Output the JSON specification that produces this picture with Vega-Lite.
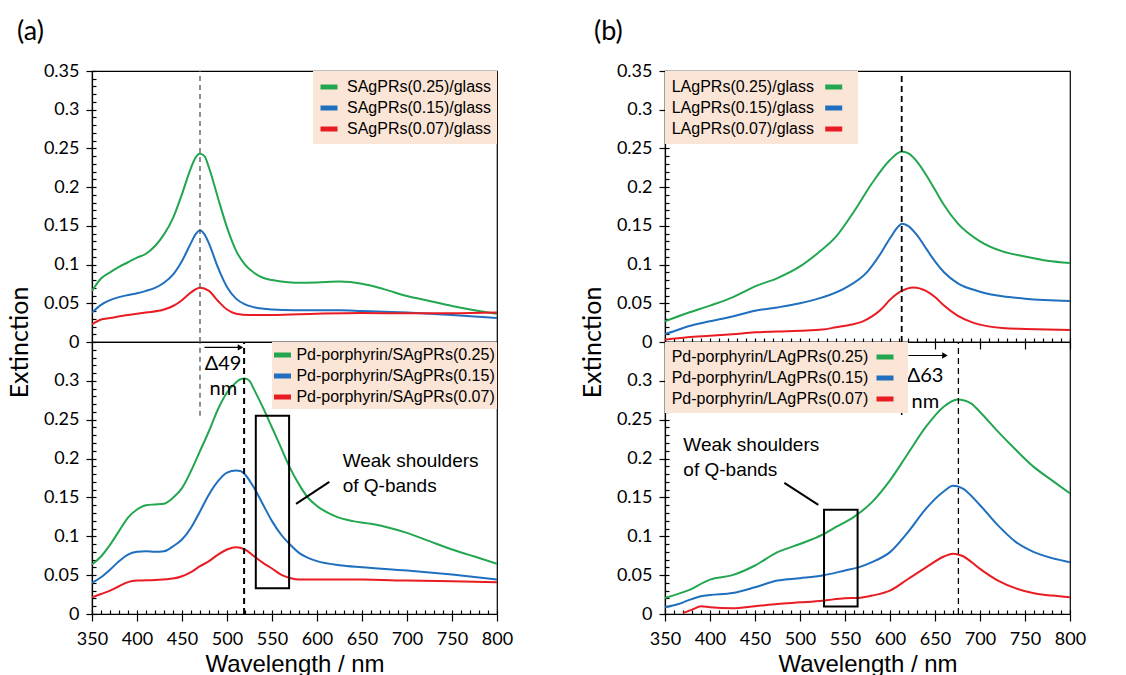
{
  "$schema": "https://vega.github.io/schema/vega-lite/v6.json",
  "background": "white",
  "padding": {"left": 6, "top": 18, "right": 5, "bottom": 0},
  "datasets": {
    "a_glass": [
      {"c":"0.25","wl":350,"e":0.066},{"c":"0.25","wl":360,"e":0.082},{"c":"0.25","wl":370,"e":0.090},{"c":"0.25","wl":380,"e":0.097},{"c":"0.25","wl":390,"e":0.103},{"c":"0.25","wl":400,"e":0.109},{"c":"0.25","wl":410,"e":0.114},{"c":"0.25","wl":420,"e":0.124},{"c":"0.25","wl":430,"e":0.139},{"c":"0.25","wl":440,"e":0.160},{"c":"0.25","wl":450,"e":0.191},{"c":"0.25","wl":460,"e":0.225},{"c":"0.25","wl":465,"e":0.238},{"c":"0.25","wl":470,"e":0.243},{"c":"0.25","wl":475,"e":0.240},{"c":"0.25","wl":480,"e":0.225},{"c":"0.25","wl":490,"e":0.186},{"c":"0.25","wl":500,"e":0.148},{"c":"0.25","wl":510,"e":0.118},{"c":"0.25","wl":520,"e":0.100},{"c":"0.25","wl":530,"e":0.0895},{"c":"0.25","wl":540,"e":0.083},{"c":"0.25","wl":550,"e":0.080},{"c":"0.25","wl":560,"e":0.078},{"c":"0.25","wl":575,"e":0.0766},{"c":"0.25","wl":600,"e":0.077},{"c":"0.25","wl":625,"e":0.078},{"c":"0.25","wl":650,"e":0.0753},{"c":"0.25","wl":675,"e":0.068},{"c":"0.25","wl":700,"e":0.0594},{"c":"0.25","wl":725,"e":0.053},{"c":"0.25","wl":750,"e":0.0465},{"c":"0.25","wl":775,"e":0.041},{"c":"0.25","wl":800,"e":0.0366},
      {"c":"0.15","wl":350,"e":0.038},{"c":"0.15","wl":360,"e":0.048},{"c":"0.15","wl":370,"e":0.054},{"c":"0.15","wl":380,"e":0.058},{"c":"0.15","wl":390,"e":0.0607},{"c":"0.15","wl":400,"e":0.063},{"c":"0.15","wl":410,"e":0.066},{"c":"0.15","wl":420,"e":0.070},{"c":"0.15","wl":430,"e":0.0766},{"c":"0.15","wl":440,"e":0.087},{"c":"0.15","wl":450,"e":0.1046},{"c":"0.15","wl":460,"e":0.128},{"c":"0.15","wl":465,"e":0.139},{"c":"0.15","wl":470,"e":0.144},{"c":"0.15","wl":475,"e":0.139},{"c":"0.15","wl":480,"e":0.127},{"c":"0.15","wl":490,"e":0.096},{"c":"0.15","wl":500,"e":0.071},{"c":"0.15","wl":510,"e":0.056},{"c":"0.15","wl":520,"e":0.0486},{"c":"0.15","wl":530,"e":0.045},{"c":"0.15","wl":550,"e":0.042},{"c":"0.15","wl":575,"e":0.041},{"c":"0.15","wl":600,"e":0.041},{"c":"0.15","wl":625,"e":0.041},{"c":"0.15","wl":650,"e":0.040},{"c":"0.15","wl":700,"e":0.038},{"c":"0.15","wl":750,"e":0.035},{"c":"0.15","wl":800,"e":0.031},
      {"c":"0.07","wl":350,"e":0.0228},{"c":"0.07","wl":360,"e":0.029},{"c":"0.07","wl":370,"e":0.031},{"c":"0.07","wl":390,"e":0.035},{"c":"0.07","wl":410,"e":0.038},{"c":"0.07","wl":430,"e":0.042},{"c":"0.07","wl":440,"e":0.0465},{"c":"0.07","wl":450,"e":0.054},{"c":"0.07","wl":460,"e":0.064},{"c":"0.07","wl":470,"e":0.070},{"c":"0.07","wl":480,"e":0.066},{"c":"0.07","wl":490,"e":0.053},{"c":"0.07","wl":500,"e":0.042},{"c":"0.07","wl":510,"e":0.0366},{"c":"0.07","wl":525,"e":0.035},{"c":"0.07","wl":550,"e":0.035},{"c":"0.07","wl":600,"e":0.0366},{"c":"0.07","wl":650,"e":0.0375},{"c":"0.07","wl":700,"e":0.037},{"c":"0.07","wl":750,"e":0.037},{"c":"0.07","wl":800,"e":0.038}
    ],
    "a_pd": [
      {"c":"0.25","wl":350,"e":0.0636},{"c":"0.25","wl":360,"e":0.074},{"c":"0.25","wl":370,"e":0.089},{"c":"0.25","wl":380,"e":0.1066},{"c":"0.25","wl":390,"e":0.124},{"c":"0.25","wl":400,"e":0.1345},{"c":"0.25","wl":410,"e":0.140},{"c":"0.25","wl":420,"e":0.141},{"c":"0.25","wl":430,"e":0.142},{"c":"0.25","wl":440,"e":0.1496},{"c":"0.25","wl":450,"e":0.162},{"c":"0.25","wl":460,"e":0.184},{"c":"0.25","wl":470,"e":0.2097},{"c":"0.25","wl":480,"e":0.2355},{"c":"0.25","wl":490,"e":0.2635},{"c":"0.25","wl":500,"e":0.285},{"c":"0.25","wl":510,"e":0.298},{"c":"0.25","wl":515,"e":0.302},{"c":"0.25","wl":520,"e":0.303},{"c":"0.25","wl":525,"e":0.300},{"c":"0.25","wl":530,"e":0.289},{"c":"0.25","wl":540,"e":0.2656},{"c":"0.25","wl":550,"e":0.240},{"c":"0.25","wl":560,"e":0.214},{"c":"0.25","wl":570,"e":0.188},{"c":"0.25","wl":580,"e":0.1668},{"c":"0.25","wl":590,"e":0.1496},{"c":"0.25","wl":600,"e":0.139},{"c":"0.25","wl":620,"e":0.126},{"c":"0.25","wl":640,"e":0.1195},{"c":"0.25","wl":660,"e":0.116},{"c":"0.25","wl":680,"e":0.111},{"c":"0.25","wl":700,"e":0.1044},{"c":"0.25","wl":725,"e":0.0937},{"c":"0.25","wl":750,"e":0.083},{"c":"0.25","wl":775,"e":0.074},{"c":"0.25","wl":800,"e":0.0645},
      {"c":"0.15","wl":350,"e":0.040},{"c":"0.15","wl":360,"e":0.0473},{"c":"0.15","wl":370,"e":0.057},{"c":"0.15","wl":380,"e":0.068},{"c":"0.15","wl":390,"e":0.0765},{"c":"0.15","wl":400,"e":0.080},{"c":"0.15","wl":410,"e":0.0808},{"c":"0.15","wl":420,"e":0.080},{"c":"0.15","wl":430,"e":0.0808},{"c":"0.15","wl":440,"e":0.087},{"c":"0.15","wl":450,"e":0.0958},{"c":"0.15","wl":460,"e":0.111},{"c":"0.15","wl":470,"e":0.132},{"c":"0.15","wl":480,"e":0.1539},{"c":"0.15","wl":490,"e":0.171},{"c":"0.15","wl":500,"e":0.182},{"c":"0.15","wl":510,"e":0.1848},{"c":"0.15","wl":515,"e":0.184},{"c":"0.15","wl":520,"e":0.1796},{"c":"0.15","wl":530,"e":0.1625},{"c":"0.15","wl":540,"e":0.141},{"c":"0.15","wl":550,"e":0.1195},{"c":"0.15","wl":560,"e":0.1023},{"c":"0.15","wl":570,"e":0.0894},{"c":"0.15","wl":580,"e":0.0787},{"c":"0.15","wl":590,"e":0.0722},{"c":"0.15","wl":600,"e":0.068},{"c":"0.15","wl":625,"e":0.0628},{"c":"0.15","wl":650,"e":0.0602},{"c":"0.15","wl":700,"e":0.056},{"c":"0.15","wl":750,"e":0.0507},{"c":"0.15","wl":800,"e":0.0443},
      {"c":"0.07","wl":350,"e":0.0215},{"c":"0.07","wl":360,"e":0.0258},{"c":"0.07","wl":370,"e":0.030},{"c":"0.07","wl":380,"e":0.0357},{"c":"0.07","wl":390,"e":0.041},{"c":"0.07","wl":400,"e":0.043},{"c":"0.07","wl":420,"e":0.0438},{"c":"0.07","wl":440,"e":0.0456},{"c":"0.07","wl":450,"e":0.0486},{"c":"0.07","wl":460,"e":0.054},{"c":"0.07","wl":470,"e":0.0615},{"c":"0.07","wl":480,"e":0.068},{"c":"0.07","wl":490,"e":0.0765},{"c":"0.07","wl":500,"e":0.083},{"c":"0.07","wl":510,"e":0.086},{"c":"0.07","wl":520,"e":0.083},{"c":"0.07","wl":530,"e":0.0744},{"c":"0.07","wl":540,"e":0.0658},{"c":"0.07","wl":550,"e":0.0585},{"c":"0.07","wl":560,"e":0.0507},{"c":"0.07","wl":570,"e":0.0464},{"c":"0.07","wl":580,"e":0.0443},{"c":"0.07","wl":600,"e":0.0443},{"c":"0.07","wl":650,"e":0.0443},{"c":"0.07","wl":700,"e":0.043},{"c":"0.07","wl":750,"e":0.042},{"c":"0.07","wl":800,"e":0.041}
    ],
    "b_glass": [
      {"c":"0.25","wl":350,"e":0.0267},{"c":"0.25","wl":375,"e":0.0374},{"c":"0.25","wl":400,"e":0.047},{"c":"0.25","wl":425,"e":0.0576},{"c":"0.25","wl":450,"e":0.0718},{"c":"0.25","wl":475,"e":0.0826},{"c":"0.25","wl":500,"e":0.0976},{"c":"0.25","wl":520,"e":0.115},{"c":"0.25","wl":540,"e":0.136},{"c":"0.25","wl":560,"e":0.1686},{"c":"0.25","wl":580,"e":0.205},{"c":"0.25","wl":600,"e":0.235},{"c":"0.25","wl":613,"e":0.246},{"c":"0.25","wl":620,"e":0.2438},{"c":"0.25","wl":630,"e":0.233},{"c":"0.25","wl":640,"e":0.216},{"c":"0.25","wl":650,"e":0.1965},{"c":"0.25","wl":660,"e":0.177},{"c":"0.25","wl":675,"e":0.1535},{"c":"0.25","wl":700,"e":0.130},{"c":"0.25","wl":725,"e":0.117},{"c":"0.25","wl":750,"e":0.1105},{"c":"0.25","wl":775,"e":0.105},{"c":"0.25","wl":800,"e":0.102},
      {"c":"0.15","wl":350,"e":0.0103},{"c":"0.15","wl":360,"e":0.0138},{"c":"0.15","wl":375,"e":0.020},{"c":"0.15","wl":400,"e":0.0267},{"c":"0.15","wl":425,"e":0.033},{"c":"0.15","wl":450,"e":0.0404},{"c":"0.15","wl":475,"e":0.0447},{"c":"0.15","wl":500,"e":0.050},{"c":"0.15","wl":525,"e":0.0576},{"c":"0.15","wl":550,"e":0.0697},{"c":"0.15","wl":575,"e":0.091},{"c":"0.15","wl":590,"e":0.115},{"c":"0.15","wl":600,"e":0.134},{"c":"0.15","wl":610,"e":0.150},{"c":"0.15","wl":613,"e":0.1527},{"c":"0.15","wl":620,"e":0.150},{"c":"0.15","wl":630,"e":0.138},{"c":"0.15","wl":640,"e":0.121},{"c":"0.15","wl":650,"e":0.104},{"c":"0.15","wl":660,"e":0.090},{"c":"0.15","wl":675,"e":0.076},{"c":"0.15","wl":700,"e":0.065},{"c":"0.15","wl":725,"e":0.059},{"c":"0.15","wl":750,"e":0.056},{"c":"0.15","wl":800,"e":0.053},
      {"c":"0.07","wl":350,"e":0.003},{"c":"0.07","wl":375,"e":0.006},{"c":"0.07","wl":400,"e":0.008},{"c":"0.07","wl":425,"e":0.010},{"c":"0.07","wl":450,"e":0.0125},{"c":"0.07","wl":475,"e":0.0135},{"c":"0.07","wl":500,"e":0.0146},{"c":"0.07","wl":525,"e":0.016},{"c":"0.07","wl":540,"e":0.019},{"c":"0.07","wl":555,"e":0.022},{"c":"0.07","wl":570,"e":0.0267},{"c":"0.07","wl":580,"e":0.033},{"c":"0.07","wl":590,"e":0.042},{"c":"0.07","wl":600,"e":0.0546},{"c":"0.07","wl":613,"e":0.066},{"c":"0.07","wl":626,"e":0.0705},{"c":"0.07","wl":640,"e":0.066},{"c":"0.07","wl":650,"e":0.058},{"c":"0.07","wl":660,"e":0.047},{"c":"0.07","wl":675,"e":0.034},{"c":"0.07","wl":690,"e":0.026},{"c":"0.07","wl":700,"e":0.0224},{"c":"0.07","wl":725,"e":0.018},{"c":"0.07","wl":750,"e":0.0168},{"c":"0.07","wl":775,"e":0.016},{"c":"0.07","wl":800,"e":0.0155}
    ],
    "b_pd": [
      {"c":"0.25","wl":350,"e":0.0207},{"c":"0.25","wl":375,"e":0.030},{"c":"0.25","wl":400,"e":0.0443},{"c":"0.25","wl":425,"e":0.050},{"c":"0.25","wl":450,"e":0.0624},{"c":"0.25","wl":475,"e":0.0796},{"c":"0.25","wl":500,"e":0.090},{"c":"0.25","wl":525,"e":0.102},{"c":"0.25","wl":540,"e":0.112},{"c":"0.25","wl":560,"e":0.125},{"c":"0.25","wl":580,"e":0.144},{"c":"0.25","wl":600,"e":0.172},{"c":"0.25","wl":620,"e":0.2066},{"c":"0.25","wl":640,"e":0.241},{"c":"0.25","wl":660,"e":0.267},{"c":"0.25","wl":675,"e":0.276},{"c":"0.25","wl":690,"e":0.271},{"c":"0.25","wl":700,"e":0.260},{"c":"0.25","wl":720,"e":0.2346},{"c":"0.25","wl":740,"e":0.211},{"c":"0.25","wl":760,"e":0.189},{"c":"0.25","wl":780,"e":0.172},{"c":"0.25","wl":800,"e":0.155},
      {"c":"0.15","wl":350,"e":0.0086},{"c":"0.15","wl":365,"e":0.0129},{"c":"0.15","wl":375,"e":0.0172},{"c":"0.15","wl":390,"e":0.0228},{"c":"0.15","wl":400,"e":0.0245},{"c":"0.15","wl":425,"e":0.027},{"c":"0.15","wl":450,"e":0.0344},{"c":"0.15","wl":475,"e":0.043},{"c":"0.15","wl":500,"e":0.046},{"c":"0.15","wl":525,"e":0.0495},{"c":"0.15","wl":550,"e":0.056},{"c":"0.15","wl":565,"e":0.060},{"c":"0.15","wl":580,"e":0.0667},{"c":"0.15","wl":600,"e":0.0796},{"c":"0.15","wl":620,"e":0.1054},{"c":"0.15","wl":640,"e":0.1356},{"c":"0.15","wl":660,"e":0.158},{"c":"0.15","wl":670,"e":0.165},{"c":"0.15","wl":680,"e":0.162},{"c":"0.15","wl":700,"e":0.140},{"c":"0.15","wl":720,"e":0.114},{"c":"0.15","wl":740,"e":0.0925},{"c":"0.15","wl":760,"e":0.0796},{"c":"0.15","wl":780,"e":0.0719},{"c":"0.15","wl":800,"e":0.0667},
      {"c":"0.07","wl":370,"e":0.0013},{"c":"0.07","wl":380,"e":0.0056},{"c":"0.07","wl":390,"e":0.0099},{"c":"0.07","wl":400,"e":0.0086},{"c":"0.07","wl":425,"e":0.0073},{"c":"0.07","wl":450,"e":0.0099},{"c":"0.07","wl":475,"e":0.0129},{"c":"0.07","wl":500,"e":0.015},{"c":"0.07","wl":525,"e":0.0172},{"c":"0.07","wl":550,"e":0.0202},{"c":"0.07","wl":565,"e":0.0207},{"c":"0.07","wl":580,"e":0.0237},{"c":"0.07","wl":600,"e":0.030},{"c":"0.07","wl":620,"e":0.045},{"c":"0.07","wl":640,"e":0.060},{"c":"0.07","wl":660,"e":0.074},{"c":"0.07","wl":670,"e":0.0775},{"c":"0.07","wl":680,"e":0.075},{"c":"0.07","wl":700,"e":0.058},{"c":"0.07","wl":720,"e":0.043},{"c":"0.07","wl":740,"e":0.033},{"c":"0.07","wl":760,"e":0.0267},{"c":"0.07","wl":780,"e":0.0237},{"c":"0.07","wl":800,"e":0.0215}
    ],
    "one": [{}]
  },
  "hconcat": [
    {
      "title": {"text": "(a)", "dx": -75, "offset": 15},
      "spacing": 0,
      "bounds": "flush",
      "resolve": {"scale": {"color": "independent"}, "legend": {"color": "independent"}},
      "vconcat": [
        {
          "width": 405,
          "height": 271,
          "resolve": {"axis": {"x": "independent", "y": "independent"}},
          "layer": [
            {
              "data": {"name": "a_glass"},
              "mark": {"type": "line", "interpolate": "monotone", "strokeWidth": 2, "clip": true},
              "encoding": {
                "x": {"field": "wl", "type": "quantitative", "scale": {"domain": [350, 800], "nice": false, "zero": false},
                      "axis": {"title": null, "labels": false, "ticks": false, "orient": "bottom"}},
                "y": {"field": "e", "type": "quantitative", "scale": {"domain": [0, 0.35], "nice": false},
                      "axis": {"title": null, "orient": "left", "values": [0,0.05,0.1,0.15,0.2,0.25,0.3,0.35], "format": "~g", "tickSize": 6}},
                "color": {"field": "c", "type": "nominal",
                          "scale": {"domain": ["0.25", "0.15", "0.07"], "range": ["#22a64f", "#1f6fbe", "#e81c22"]},
                          "legend": {"title": null, "orient": "top-right", "padding": 5, "labelOffset": 7,
                                     "labelExpr": "'SAgPRs(' + datum.label + ')/glass'"}}
              }
            },
            {
              "data": {"name": "one"},
              "mark": {"type": "rule", "strokeDash": [5, 4], "color": "#555555", "strokeWidth": 1.3},
              "encoding": {
                "x": {"datum": 470, "axis": null},
                "y": {"datum": 0, "axis": {"title": null, "orient": "left", "labels": false, "domain": false, "tickSize": -4,
                      "values": [0,0.01,0.02,0.03,0.04,0.05,0.06,0.07,0.08,0.09,0.1,0.11,0.12,0.13,0.14,0.15,0.16,0.17,0.18,0.19,0.2,0.21,0.22,0.23,0.24,0.25,0.26,0.27,0.28,0.29,0.3,0.31,0.32,0.33,0.34,0.35]}},
                "y2": {"datum": 0.35}
              }
            }
          ]
        },
        {
          "width": 405,
          "height": 272,
          "resolve": {"axis": {"x": "independent", "y": "independent"}},
          "layer": [
            {
              "data": {"name": "a_pd"},
              "mark": {"type": "line", "interpolate": "monotone", "strokeWidth": 2, "clip": true},
              "encoding": {
                "x": {"field": "wl", "type": "quantitative", "scale": {"domain": [350, 800], "nice": false, "zero": false},
                      "axis": {"title": "Wavelength / nm", "orient": "bottom", "values": [350,400,450,500,550,600,650,700,750,800], "format": "d", "tickSize": 7}},
                "y": {"field": "e", "type": "quantitative", "scale": {"domain": [0, 0.35], "nice": false},
                      "axis": {"title": "Extinction", "orient": "left", "titleX": -65, "titleY": 0, "titleAngle": -90, "titleAlign": "center", "titleBaseline": "alphabetic",
                               "values": [0,0.05,0.1,0.15,0.2,0.25,0.3], "format": "~g", "tickSize": 6}},
                "color": {"field": "c", "type": "nominal",
                          "scale": {"domain": ["0.25", "0.15", "0.07"], "range": ["#22a64f", "#1f6fbe", "#e81c22"]},
                          "legend": {"title": null, "orient": "top-right", "padding": 2, "labelOffset": 2.9, "symbolOffset": -2.5,
                                     "labelExpr": "'Pd-porphyrin/SAgPRs(' + datum.label + ')'"}}
              }
            },
            {
              "data": {"name": "one"},
              "mark": {"type": "rule", "strokeDash": [5, 4], "color": "#555555", "strokeWidth": 1.3},
              "encoding": {
                "x": {"datum": 470, "axis": {"title": null, "orient": "bottom", "labels": false, "domain": false, "tickSize": -4,
                      "values": [350,360,370,380,390,400,410,420,430,440,450,460,470,480,490,500,510,520,530,540,550,560,570,580,590,600,610,620,630,640,650,660,670,680,690,700,710,720,730,740,750,760,770,780,790,800]}},
                "y": {"datum": 0.255, "axis": {"title": null, "orient": "left", "labels": false, "domain": false, "tickSize": -4,
                      "values": [0,0.01,0.02,0.03,0.04,0.05,0.06,0.07,0.08,0.09,0.1,0.11,0.12,0.13,0.14,0.15,0.16,0.17,0.18,0.19,0.2,0.21,0.22,0.23,0.24,0.25,0.26,0.27,0.28,0.29,0.3,0.31,0.32,0.33,0.34]}},
                "y2": {"datum": 0.35}
              }
            },
            {
              "data": {"name": "one"},
              "mark": {"type": "rule", "strokeDash": [6, 4], "color": "black", "strokeWidth": 2},
              "encoding": {"x": {"datum": 519, "axis": null}, "y": {"datum": 0, "axis": null}, "y2": {"datum": 0.35}}
            },
            {
              "data": {"name": "one"},
              "mark": {"type": "rule", "color": "black", "strokeWidth": 1.2},
              "encoding": {"x": {"datum": 475, "axis": null}, "x2": {"datum": 513}, "y": {"datum": 0.343, "axis": null}}
            },
            {
              "data": {"name": "one"},
              "mark": {"type": "point", "shape": "triangle-right", "filled": true, "color": "black", "size": 40, "opacity": 1},
              "encoding": {"x": {"datum": 515, "axis": null}, "y": {"datum": 0.343, "axis": null}}
            },
            {
              "data": {"name": "one"},
              "mark": {"type": "text", "text": "Δ49", "font": "Lato", "fontSize": 20, "color": "black", "align": "center", "baseline": "middle"},
              "encoding": {"x": {"datum": 495.6, "axis": null}, "y": {"datum": 0.3215, "axis": null}}
            },
            {
              "data": {"name": "one"},
              "mark": {"type": "text", "text": "nm", "font": "Lato", "fontSize": 20, "color": "black", "align": "center", "baseline": "middle"},
              "encoding": {"x": {"datum": 496, "axis": null}, "y": {"datum": 0.289, "axis": null}}
            },
            {
              "data": {"name": "one"},
              "mark": {"type": "rect", "fill": null, "fillOpacity": 0, "stroke": "black", "strokeWidth": 2},
              "encoding": {"x": {"datum": 532, "axis": null}, "x2": {"datum": 569}, "y": {"datum": 0.033, "axis": null}, "y2": {"datum": 0.255}}
            },
            {
              "data": {"name": "one"},
              "mark": {"type": "rule", "color": "black", "strokeWidth": 2},
              "encoding": {"x": {"datum": 576.7, "axis": null}, "x2": {"datum": 613.7}, "y": {"datum": 0.1418, "axis": null}, "y2": {"datum": 0.170}}
            },
            {
              "data": {"name": "one"},
              "mark": {"type": "text", "text": "Weak shoulders", "font": "Liberation Sans", "fontSize": 19, "color": "black", "align": "left", "baseline": "middle"},
              "encoding": {"x": {"datum": 628.5, "axis": null}, "y": {"datum": 0.197, "axis": null}}
            },
            {
              "data": {"name": "one"},
              "mark": {"type": "text", "text": "of Q-bands", "font": "Liberation Sans", "fontSize": 19, "color": "black", "align": "left", "baseline": "middle"},
              "encoding": {"x": {"datum": 628.5, "axis": null}, "y": {"datum": 0.1646, "axis": null}}
            }
          ]
        }
      ]
    },
    {
      "title": {"text": "(b)", "dx": -71, "offset": 15},
      "spacing": 0,
      "bounds": "flush",
      "resolve": {"scale": {"color": "independent"}, "legend": {"color": "independent"}},
      "vconcat": [
        {
          "width": 405,
          "height": 271,
          "resolve": {"axis": {"x": "independent", "y": "independent"}},
          "layer": [
            {
              "data": {"name": "b_glass"},
              "mark": {"type": "line", "interpolate": "monotone", "strokeWidth": 2, "clip": true},
              "encoding": {
                "x": {"field": "wl", "type": "quantitative", "scale": {"domain": [350, 800], "nice": false, "zero": false},
                      "axis": {"title": null, "labels": false, "orient": "bottom", "values": [350,400,450,500,550,600,650,700,750,800], "tickSize": 7}},
                "y": {"field": "e", "type": "quantitative", "scale": {"domain": [0, 0.35], "nice": false},
                      "axis": {"title": null, "orient": "left", "values": [0,0.05,0.1,0.15,0.2,0.25,0.3,0.35], "format": "~g", "tickSize": 6}},
                "color": {"field": "c", "type": "nominal",
                          "scale": {"domain": ["0.25", "0.15", "0.07"], "range": ["#22a64f", "#1f6fbe", "#e81c22"]},
                          "legend": {"title": null, "orient": "top-left", "padding": 5, "labelOffset": -173, "symbolOffset": 152.7,
                                     "labelExpr": "'LAgPRs(' + datum.label + ')/glass'"}}
              }
            },
            {
              "data": {"name": "one"},
              "mark": {"type": "rule", "strokeDash": [6, 4], "color": "black", "strokeWidth": 1.8},
              "encoding": {
                "x": {"datum": 613, "axis": {"title": null, "orient": "bottom", "labels": false, "domain": false, "tickSize": -4,
                      "values": [350,360,370,380,390,400,410,420,430,440,450,460,470,480,490,500,510,520,530,540,550,560,570,580,590,600,610,620,630,640,650,660,670,680,690,700,710,720,730,740,750,760,770,780,790,800]}},
                "y": {"datum": 0, "axis": {"title": null, "orient": "left", "labels": false, "domain": false, "tickSize": -4,
                      "values": [0,0.01,0.02,0.03,0.04,0.05,0.06,0.07,0.08,0.09,0.1,0.11,0.12,0.13,0.14,0.15,0.16,0.17,0.18,0.19,0.2,0.21,0.22,0.23,0.24,0.25,0.26,0.27,0.28,0.29,0.3,0.31,0.32,0.33,0.34,0.35]}},
                "y2": {"datum": 0.35}
              }
            }
          ]
        },
        {
          "width": 405,
          "height": 272,
          "resolve": {"axis": {"x": "independent", "y": "independent"}},
          "layer": [
            {
              "data": {"name": "b_pd"},
              "mark": {"type": "line", "interpolate": "monotone", "strokeWidth": 2, "clip": true},
              "encoding": {
                "x": {"field": "wl", "type": "quantitative", "scale": {"domain": [350, 800], "nice": false, "zero": false},
                      "axis": {"title": "Wavelength / nm", "orient": "bottom", "values": [350,400,450,500,550,600,650,700,750,800], "format": "d", "tickSize": 7}},
                "y": {"field": "e", "type": "quantitative", "scale": {"domain": [0, 0.35], "nice": false},
                      "axis": {"title": "Extinction", "orient": "left", "titleX": -65, "titleY": 0, "titleAngle": -90, "titleAlign": "center", "titleBaseline": "alphabetic",
                               "values": [0,0.05,0.1,0.15,0.2,0.25,0.3], "format": "~g", "tickSize": 6}},
                "color": {"field": "c", "type": "nominal",
                          "scale": {"domain": ["0.25", "0.15", "0.07"], "range": ["#22a64f", "#1f6fbe", "#e81c22"]},
                          "legend": {"title": null, "orient": "top-left", "padding": 4, "labelOffset": -224.3, "symbolOffset": 205,
                                     "labelExpr": "'Pd-porphyrin/LAgPRs(' + datum.label + ')'"}}
              }
            },
            {
              "data": {"name": "one"},
              "mark": {"type": "rule", "strokeDash": [6, 4], "color": "black", "strokeWidth": 1.5},
              "encoding": {
                "x": {"datum": 613, "axis": {"title": null, "orient": "bottom", "labels": false, "domain": false, "tickSize": -4,
                      "values": [350,360,370,380,390,400,410,420,430,440,450,460,470,480,490,500,510,520,530,540,550,560,570,580,590,600,610,620,630,640,650,660,670,680,690,700,710,720,730,740,750,760,770,780,790,800]}},
                "y": {"datum": 0.256, "axis": {"title": null, "orient": "left", "labels": false, "domain": false, "tickSize": -4,
                      "values": [0,0.01,0.02,0.03,0.04,0.05,0.06,0.07,0.08,0.09,0.1,0.11,0.12,0.13,0.14,0.15,0.16,0.17,0.18,0.19,0.2,0.21,0.22,0.23,0.24,0.25,0.26,0.27,0.28,0.29,0.3,0.31,0.32,0.33,0.34]}},
                "y2": {"datum": 0.35}
              }
            },
            {
              "data": {"name": "one"},
              "mark": {"type": "rule", "strokeDash": [6, 4], "color": "black", "strokeWidth": 1.3},
              "encoding": {"x": {"datum": 676, "axis": null}, "y": {"datum": 0, "axis": null}, "y2": {"datum": 0.35}}
            },
            {
              "data": {"name": "one"},
              "mark": {"type": "rule", "color": "black", "strokeWidth": 1.2},
              "encoding": {"x": {"datum": 620.4, "axis": null}, "x2": {"datum": 659}, "y": {"datum": 0.3326, "axis": null}}
            },
            {
              "data": {"name": "one"},
              "mark": {"type": "point", "shape": "triangle-right", "filled": true, "color": "black", "size": 40, "opacity": 1},
              "encoding": {"x": {"datum": 661, "axis": null}, "y": {"datum": 0.3326, "axis": null}}
            },
            {
              "data": {"name": "one"},
              "mark": {"type": "text", "text": "Δ63", "font": "Lato", "fontSize": 20, "color": "black", "align": "center", "baseline": "middle"},
              "encoding": {"x": {"datum": 638.9, "axis": null}, "y": {"datum": 0.3064, "axis": null}}
            },
            {
              "data": {"name": "one"},
              "mark": {"type": "text", "text": "nm", "font": "Lato", "fontSize": 20, "color": "black", "align": "center", "baseline": "middle"},
              "encoding": {"x": {"datum": 639.3, "axis": null}, "y": {"datum": 0.273, "axis": null}}
            },
            {
              "data": {"name": "one"},
              "mark": {"type": "rect", "fill": null, "fillOpacity": 0, "stroke": "black", "strokeWidth": 2},
              "encoding": {"x": {"datum": 526.7, "axis": null}, "x2": {"datum": 564}, "y": {"datum": 0.0095, "axis": null}, "y2": {"datum": 0.134}}
            },
            {
              "data": {"name": "one"},
              "mark": {"type": "rule", "color": "black", "strokeWidth": 2},
              "encoding": {"x": {"datum": 482.6, "axis": null}, "x2": {"datum": 520.4}, "y": {"datum": 0.1688, "axis": null}, "y2": {"datum": 0.1405}}
            },
            {
              "data": {"name": "one"},
              "mark": {"type": "text", "text": "Weak shoulders", "font": "Liberation Sans", "fontSize": 19, "color": "black", "align": "left", "baseline": "middle"},
              "encoding": {"x": {"datum": 370.4, "axis": null}, "y": {"datum": 0.217, "axis": null}}
            },
            {
              "data": {"name": "one"},
              "mark": {"type": "text", "text": "of Q-bands", "font": "Liberation Sans", "fontSize": 19, "color": "black", "align": "left", "baseline": "middle"},
              "encoding": {"x": {"datum": 370.4, "axis": null}, "y": {"datum": 0.1856, "axis": null}}
            }
          ]
        }
      ]
    }
  ],
  "spacing": 65,
  "resolve": {"scale": {"color": "independent"}, "legend": {"color": "independent"}},
  "config": {
    "view": {"stroke": "black", "strokeWidth": 1.2},
    "axis": {
      "grid": false,
      "domainColor": "black",
      "domainWidth": 1.2,
      "tickColor": "black",
      "tickWidth": 1.2,
      "labelColor": "black",
      "labelFont": "Lato",
      "labelFontSize": 18,
      "labelPadding": 7,
      "labelOverlap": false,
      "labelBound": false,
      "labelFlush": false,
      "titleColor": "black",
      "titleFontWeight": "normal"
    },
    "axisY": {"titleFont": "Lato", "titleFontSize": 25},
    "axisX": {"titleFont": "Liberation Sans", "titleFontSize": 24, "titlePadding": 4, "labelPadding": 9},
    "legend": {
      "fillColor": "#fbe5d6",
      "symbolType": "stroke",
      "symbolSize": 289,
      "symbolStrokeWidth": 5,
      "labelFont": "Liberation Sans",
      "labelFontSize": 16,
      "labelColor": "black",
      "labelLimit": 400,
      "rowPadding": 0,
      "offset": 0
    },
    "title": {"font": "Lato", "fontSize": 27, "fontWeight": "normal", "color": "black", "anchor": "start", "frame": "group"}
  }
}
